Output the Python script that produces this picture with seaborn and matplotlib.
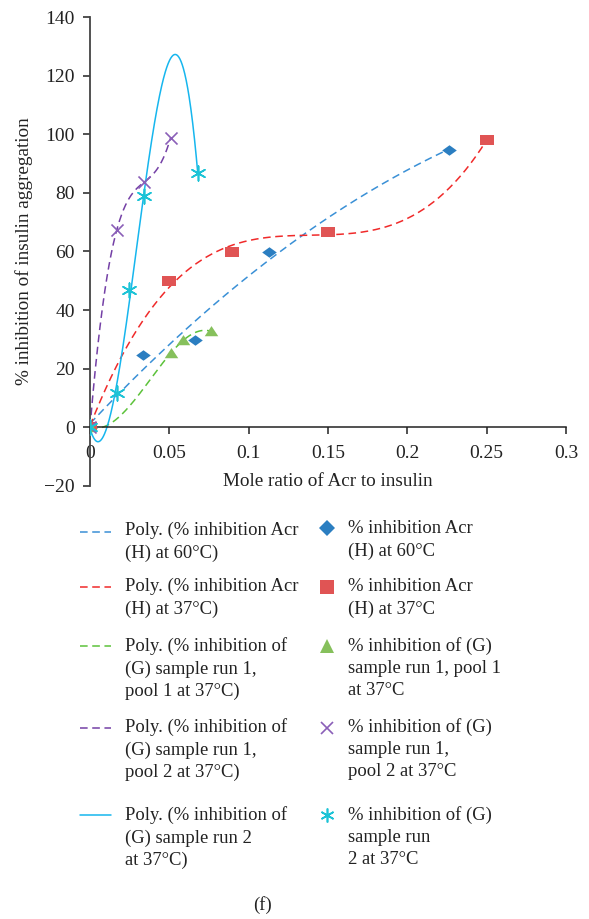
import numpy as np
import pandas as pd
import matplotlib
matplotlib.use("Agg")
import matplotlib.pyplot as plt
from matplotlib.lines import Line2D
from matplotlib.ticker import FuncFormatter
import seaborn as sns

# ---- data ----------------------------------------------------------------
acr60_x = [0.0, 0.0332, 0.0662, 0.113, 0.2263]
acr60_y = [0, 24.8, 29.9, 59.8, 94.7]

acr37_x = [0.0, 0.050, 0.0897, 0.1502, 0.250]
acr37_y = [0, 49.9, 59.8, 66.6, 97.9]

g1p1_x = [0.0, 0.051, 0.0588, 0.0761]
g1p1_y = [0, 25.4, 29.7, 32.8]

g1p2_x = [0.0, 0.0168, 0.0342, 0.0508]
g1p2_y = [0, 67.2, 83.7, 98.8]

g2_x = [0.0, 0.0168, 0.0248, 0.0342, 0.0679]
g2_y = [0, 11.7, 47.0, 78.8, 86.9]

poly_orders = [2, 3, 3, 3, 3]

series_names = [
    "% inhibition Acr\n(H) at 60°C",
    "% inhibition Acr\n(H) at 37°C",
    "% inhibition of (G)\nsample run 1, pool 1\nat 37°C",
    "% inhibition of (G)\nsample run 1,\npool 2 at 37°C",
    "% inhibition of (G)\nsample run\n2 at 37°C",
]
trend_names = [
    "Poly. (% inhibition Acr\n(H) at 60°C)",
    "Poly. (% inhibition Acr\n(H) at 37°C)",
    "Poly. (% inhibition of\n(G) sample run 1,\npool 1 at 37°C)",
    "Poly. (% inhibition of\n(G) sample run 1,\npool 2 at 37°C)",
    "Poly. (% inhibition of\n(G) sample run 2\nat 37°C)",
]

x_ticks = [0, 0.05, 0.1, 0.15, 0.2, 0.25, 0.3]
y_ticks = [-20, 0, 20, 40, 60, 80, 100, 120, 140]

# ---- styling -------------------------------------------------------------
marker_colors = ["#2B7EC1", "#E05454", "#86C05C", "#8A5FB8", "#1CC3D6"]
line_colors = ["#3A90D6", "#F02A2A", "#5CC23A", "#7440A6", "#16B6EE"]
line_dashed = [True, True, True, True, False]

flat_diamond = [(-1, 0), (0, 0.72), (1, 0), (0, -0.72), (-1, 0)]
flat_square = [(-1, -0.72), (1, -0.72), (1, 0.72), (-1, 0.72), (-1, -0.72)]
flat_triangle = [(-1, -0.7), (1, -0.7), (0, 0.8), (-1, -0.7)]
asterisk = (6, 2, 0)
plot_markers = [flat_diamond, flat_square, flat_triangle, "x", asterisk]
plot_sizes = [110, 105, 95, 75, 110]
legend_markers = ["D", "s", "^", "x", asterisk]
legend_sizes = [8, 9.5, 9.5, 9, 10]

sns.set_theme(style="ticks")
plt.rcParams["font.family"] = ["Liberation Serif", "DejaVu Serif"]

W, H = 589, 919
fig = plt.figure(figsize=(W / 100, H / 100), dpi=100)
ax = fig.add_axes([90 / W, 1 - 486 / H, (566 - 90) / W, (486 - 17) / H])

xs_all = [acr60_x, acr37_x, g1p1_x, g1p2_x, g2_x]
ys_all = [acr60_y, acr37_y, g1p1_y, g1p2_y, g2_y]

# polynomial trendlines
for i, (xs, ys) in enumerate(zip(xs_all, ys_all)):
    coef = np.polyfit(xs, ys, poly_orders[i])
    grid = np.linspace(min(xs), max(xs), 300)
    df = pd.DataFrame({"x": grid, "y": np.polyval(coef, grid)})
    sns.lineplot(data=df, x="x", y="y", ax=ax, color=line_colors[i],
                 linewidth=1.1, sort=False)
    if line_dashed[i]:
        ax.lines[-1].set_dashes((5, 3))

# data points
for i, (xs, ys) in enumerate(zip(xs_all, ys_all)):
    df = pd.DataFrame({"x": xs, "y": ys})
    unfilled = plot_markers[i] in ("x", asterisk)
    sns.scatterplot(data=df, x="x", y="y", ax=ax, marker=plot_markers[i],
                    s=plot_sizes[i], color=marker_colors[i],
                    linewidth=1.2 if unfilled else 0, zorder=4)

ax.set_xlim(0, 0.3)
ax.set_ylim(-20, 140)
ax.set_xticks(x_ticks)
ax.set_yticks(y_ticks)
ax.xaxis.set_major_formatter(FuncFormatter(lambda v, p: f"{v:g}"))
ax.yaxis.set_major_formatter(FuncFormatter(lambda v, p: f"{v:g}".replace("-", "\u2212")))

for s in ["top", "right"]:
    ax.spines[s].set_visible(False)
ax.spines["bottom"].set_position(("data", 0))
ax.spines["bottom"].set_color("#222222")
ax.spines["left"].set_color("#444444")
ax.spines["bottom"].set_linewidth(1.1)
ax.spines["left"].set_linewidth(1.3)
ax.tick_params(axis="both", labelsize=14, colors="#222222", length=5, width=1.1,
               direction="out", pad=6)
ax.tick_params(axis="x", pad=8)

ax.set_xlabel("Mole ratio of Acr to insulin", fontsize=13.8, color="#222222")
ax.set_ylabel("% inhibition of insulin aggregation", fontsize=13.8, color="#222222")
ax.xaxis.set_label_coords(0.5, 0.028)
ax.yaxis.set_label_coords(-0.12, 0.5)
ax.grid(False)


# ---- legend, two columns -------------------------------------------------
def fx(px):
    return px / W


def fy(py):
    return 1 - py / H


row_tops = [522, 578, 637, 718, 806]
row_mid = [532, 587, 646, 728, 815]
text_kw = dict(fontsize=13.4, color="#222222", va="top", ha="left",
               linespacing=1.4, transform=fig.transFigure)

for i in range(5):
    ln = Line2D([fx(80), fx(111)], [fy(row_mid[i])] * 2, color=line_colors[i],
                linewidth=1.1, transform=fig.transFigure)
    if line_dashed[i]:
        ln.set_dashes((5, 3))
    fig.add_artist(ln)
    fig.text(fx(125), fy(row_tops[i]), trend_names[i], **text_kw)

    mk = Line2D([fx(327)], [fy(row_mid[i] - (4 if i == 0 else 0))],
                marker=legend_markers[i], markersize=legend_sizes[i],
                color=marker_colors[i], markeredgewidth=1.2 if i >= 3 else 0,
                linestyle="none", transform=fig.transFigure)
    fig.add_artist(mk)
    fig.text(fx(348), fy(row_tops[i] - (2 if i == 0 else 0)), series_names[i], **text_kw)

fig.text(fx(262), fy(905), "(f)", fontsize=13.4, color="#222222", ha="center",
         va="center", transform=fig.transFigure)

fig.savefig("out.png", dpi=100)
